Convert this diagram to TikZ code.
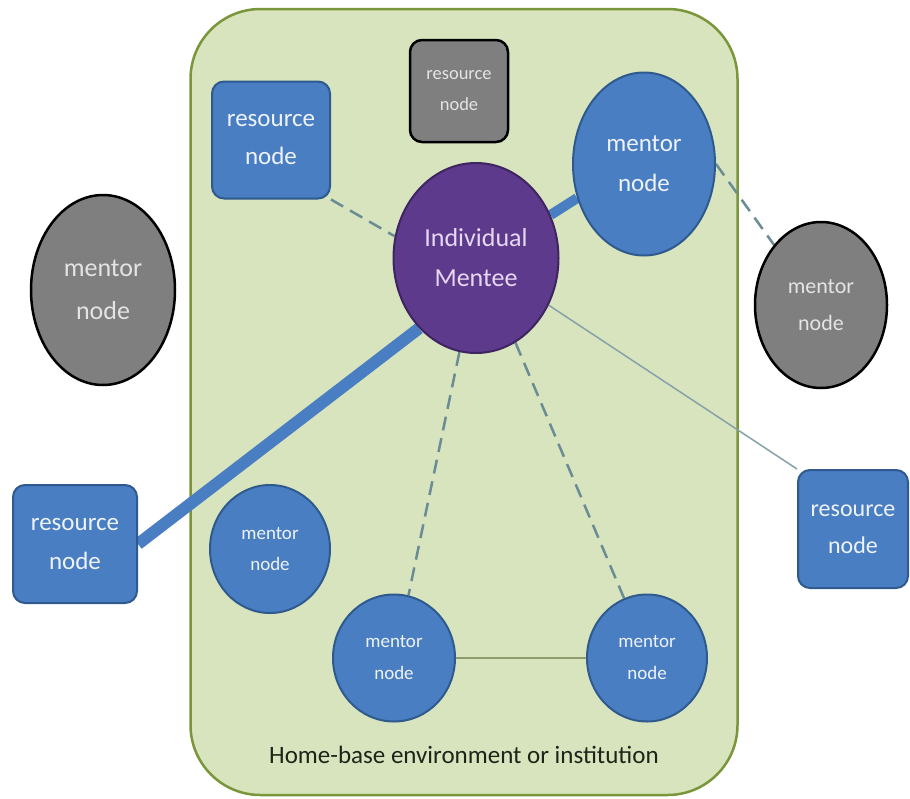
\documentclass[tikz,border=0pt]{standalone}
\usepackage{fontspec}
\setmainfont{Carlito}
\usetikzlibrary{shapes.geometric}
\pgfdeclarelayer{back}
\pgfdeclarelayer{bg}
\pgfsetlayers{back,bg,main}
\definecolor{bluefill}{HTML}{4A7EC2}
\definecolor{bluedraw}{HTML}{2F5A8E}
\definecolor{bluetext}{HTML}{EEF3FA}
\definecolor{purplefill}{HTML}{5E3A8C}
\definecolor{purpledraw}{HTML}{3E2460}
\definecolor{purpletext}{HTML}{E6D8F2}
\definecolor{grayfill}{HTML}{7F7F7F}
\definecolor{graytext}{HTML}{E4E4E4}
\definecolor{greenfill}{HTML}{D8E4BE}
\definecolor{greendraw}{HTML}{7A963A}
\definecolor{dashcol}{HTML}{6A8C95}
\definecolor{thincol}{HTML}{86A2A8}
\definecolor{pathcol}{HTML}{8C9C6C}
\definecolor{labelcol}{HTML}{1E2418}
\begin{document}
\begin{tikzpicture}[x=1pt,y=-1pt,
  fs/.style 2 args={font=\fontsize{#1}{#2}\selectfont},
  resbox/.style={draw=bluedraw, fill=bluefill, line width=2pt, rounded corners=12pt, text=bluetext, align=center, inner sep=0pt},
  grayres/.style={draw=black, fill=grayfill, line width=2.5pt, rounded corners=12pt, text=graytext, align=center, inner sep=0pt},
  mentorell/.style={ellipse, draw=bluedraw, fill=bluefill, line width=2pt, text=bluetext, align=center, inner sep=0pt},
  grayell/.style={ellipse, draw=black, fill=grayfill, line width=2.5pt, text=graytext, align=center, inner sep=0pt},
  menteeell/.style={ellipse, draw=purpledraw, fill=purplefill, line width=2pt, text=purpletext, align=center, inner sep=0pt},
  dashline/.style={draw=dashcol, line width=2.5pt, dash pattern=on 14pt off 8pt},
  thickblue/.style={draw=bluefill},
  thinline/.style={draw=thincol, line width=1.5pt},
  pathline/.style={draw=pathcol, line width=1.8pt}
]
\useasboundingbox (0,0) rectangle (910,798);

\begin{pgfonlayer}{back}
\node[draw=greendraw, fill=greenfill, line width=2.5pt, rounded corners=70pt,
      minimum width=547, minimum height=786, inner sep=0pt] (home) at (464,402) {};
\end{pgfonlayer}
\node[fs={25}{30}, text=labelcol] (homelabel) at (464,755) {Home-base environment or institution};

\node[resbox, minimum width=118, minimum height=117, fs={25}{38}] (resTL) at (271,140) {resource\\node};
\node[grayres, minimum width=98, minimum height=102, fs={18.5}{31}] (resTop) at (459,91) {resource\\node};
\node[mentorell, minimum width=142, minimum height=183, fs={25}{40}] (menTR) at (644,164) {mentor\\node};
\node[menteeell, minimum width=165, minimum height=190, fs={26}{40}] (mentee) at (476,258) {Individual\\Mentee};
\node[grayell, minimum width=144, minimum height=190, fs={26}{43}] (menL) at (103,290) {mentor\\node};
\node[grayell, minimum width=132, minimum height=166, fs={22}{37}] (menR) at (821,305) {mentor\\node};
\node[resbox, minimum width=124, minimum height=118, fs={25}{39}] (resL) at (75,544) {resource\\node};
\node[resbox, minimum width=110, minimum height=118, fs={24}{37}] (resR) at (853,529) {resource\\node};
\node[mentorell, minimum width=120, minimum height=128, fs={19}{31}] (menS) at (270,549) {mentor\\node};
\node[mentorell, minimum width=122, minimum height=127, fs={19}{32}] (menB1) at (394,658) {mentor\\node};
\node[mentorell, minimum width=120, minimum height=127, fs={19}{32}] (menB2) at (647,658) {mentor\\node};

\begin{pgfonlayer}{bg}
\draw[dashline] (resTL.south east) -- (mentee.165);
\draw[thickblue, line width=10pt] (mentee.30) -- (menTR.207);
\draw[dashline] (menTR.0) -- (menR.128);
\draw[thickblue, line width=12pt] (mentee.231) -- (resL.east);
\draw[thinline] (mentee.-33) -- (resR.north west);
\draw[dashline] (mentee.260) -- (menB1.77);
\draw[dashline] (mentee.-65) -- (menB2.111);
\draw[pathline] (menB1) -- (menB2);
\end{pgfonlayer}
\end{tikzpicture}
\end{document}
